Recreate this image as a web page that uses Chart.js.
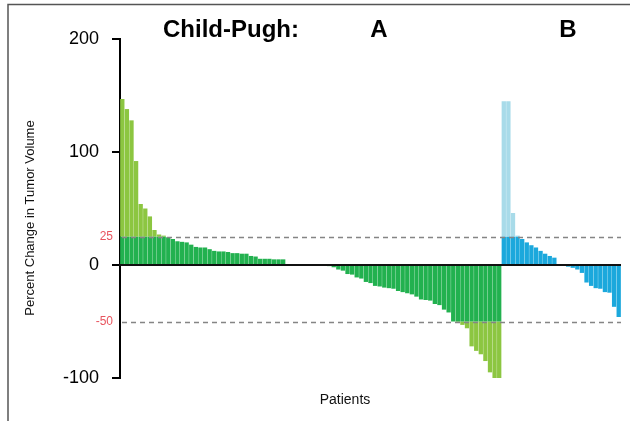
<!DOCTYPE html>
<html>
<head>
<meta charset="utf-8">
<script src="https://cdn.jsdelivr.net/npm/chart.js@4.4.1/dist/chart.umd.min.js"></script>
<style>
  html, body { margin: 0; padding: 0; background: #ffffff; }
  #wrap { width: 630px; height: 421px; position: relative; }
</style>
</head>
<body>
<div id="wrap"><canvas id="c" width="630" height="421"></canvas></div>
<script>
// ---- data ----
const groupA = [147,138,128,92,54,50,43,31,27,26,24.5,23,21,20.5,20,18,16,15.5,15.5,14,12.5,12,12,11.5,10.5,10.5,10,10,8,7.5,5.5,5.5,5.5,5,5,5,
  0,0,0,0,0,0,0,0,0,
  -1,-2,-4,-5,-8,-8.5,-11,-12,-15,-16,-18.5,-19,-20,-20.5,-21,-23,-24,-25,-26,-28,-30.5,-31,-31.5,-34.5,-35.5,-39.5,-42,-50,-51,-53,-56,-72,-76,-79,-85,-95,-103,-103];
const groupB = [145,145,46,26,23,20,17.5,15.5,12.5,10,8,6.5,
  0,0,
  -1.5,-2.5,-4,-7,-15.5,-18.5,-20.5,-21,-24,-24.5,-37,-46];
const yTicks = [200, 100, 0, -100];
const refLines = [25, -50];
const groupLabels = ['Child-Pugh:', 'A', 'B'];

const patients = [];
for (let i = 0; i < groupA.length + groupB.length; i++) patients.push(String(i + 1));

const clamp = v => Math.max(refLines[1], Math.min(refLines[0], v));
const nA = groupA.length;
const aInner = patients.map((_, i) => i < nA ? clamp(groupA[i]) : null);
const aOuter = patients.map((_, i) => i < nA ? groupA[i] - clamp(groupA[i]) : null);
const bInner = patients.map((_, i) => i >= nA ? clamp(groupB[i - nA]) : null);
const bOuter = patients.map((_, i) => i >= nA ? groupB[i - nA] - clamp(groupB[i - nA]) : null);

const FONT = "'Liberation Sans', Arial, Helvetica, sans-serif";

const decor = {
  id: 'decor',
  afterDatasetsDraw(chart) {
    const { ctx, chartArea: a, scales: { y } } = chart;
    ctx.save();
    // dashed reference lines
    ctx.strokeStyle = '#858585';
    ctx.lineWidth = 1.7;
    ctx.setLineDash([5, 4]);
    refLines.forEach(v => {
      const py = Math.round(y.getPixelForValue(v)) + 0.5;
      ctx.beginPath(); ctx.moveTo(a.left + 2, py); ctx.lineTo(a.right, py); ctx.stroke();
    });
    ctx.setLineDash([]);
    // zero line
    const pz = y.getPixelForValue(0);
    ctx.strokeStyle = '#111';
    ctx.lineWidth = 1.8;
    ctx.beginPath(); ctx.moveTo(a.left - 1, pz); ctx.lineTo(a.right, pz); ctx.stroke();
    // red reference labels
    ctx.fillStyle = '#e8545e';
    ctx.font = '12px ' + FONT;
    ctx.textAlign = 'right';
    ctx.textBaseline = 'middle';
    refLines.forEach(v => ctx.fillText(String(v), a.left - 7, y.getPixelForValue(v)));
    // header texts
    ctx.fillStyle = '#000';
    ctx.font = 'bold 24px ' + FONT;
    ctx.textAlign = 'left';
    ctx.fillText(groupLabels[0], 163, 30);
    ctx.textAlign = 'center';
    ctx.fillText(groupLabels[1], 379, 30);
    ctx.fillText(groupLabels[2], 568, 30);
    // axis titles
    ctx.font = '14px ' + FONT;
    ctx.fillStyle = '#111';
    ctx.fillText('Patients', 345, 400);
    ctx.save();
    ctx.translate(30, 218);
    ctx.rotate(-Math.PI / 2);
    ctx.font = '13px ' + FONT;
    ctx.fillText('Percent Change in Tumor Volume', 0, 0);
    ctx.restore();
    // frame
    ctx.strokeStyle = '#555';
    ctx.lineWidth = 1.5;
    ctx.beginPath();
    ctx.moveTo(8, 421); ctx.lineTo(8, 4.5); ctx.lineTo(630, 4.5);
    ctx.stroke();
    ctx.restore();
  }
};

new Chart(document.getElementById('c'), {
  type: 'bar',
  data: {
    labels: patients,
    datasets: [
      { data: aInner, backgroundColor: '#22b14f' },
      { data: aOuter, backgroundColor: '#8cc641' },
      { data: bInner, backgroundColor: '#1ba8dc' },
      { data: bOuter, backgroundColor: '#a8dbe9' }
    ]
  },
  options: {
    responsive: false,
    animation: false,
    layout: { padding: { top: 39, left: 0, right: 9, bottom: 43 } },
    datasets: { bar: { categoryPercentage: 1.0, barPercentage: 0.94, borderWidth: 0 } },
    plugins: { legend: { display: false }, tooltip: { enabled: false }, title: { display: false } },
    scales: {
      x: {
        stacked: true,
        display: false
      },
      y: {
        stacked: true,
        min: -100,
        max: 200,
        afterFit(scale) { scale.width = 120; },
        afterBuildTicks(scale) { scale.ticks = yTicks.map(v => ({ value: v })); },
        ticks: { color: '#000', font: { size: 18, family: FONT }, padding: 13 },
        grid: { drawOnChartArea: false, drawTicks: true, tickLength: 8, color: '#000', lineWidth: 2 },
        border: { display: true, color: '#000', width: 2 }
      }
    }
  },
  plugins: [decor]
});
</script>
</body>
</html>
